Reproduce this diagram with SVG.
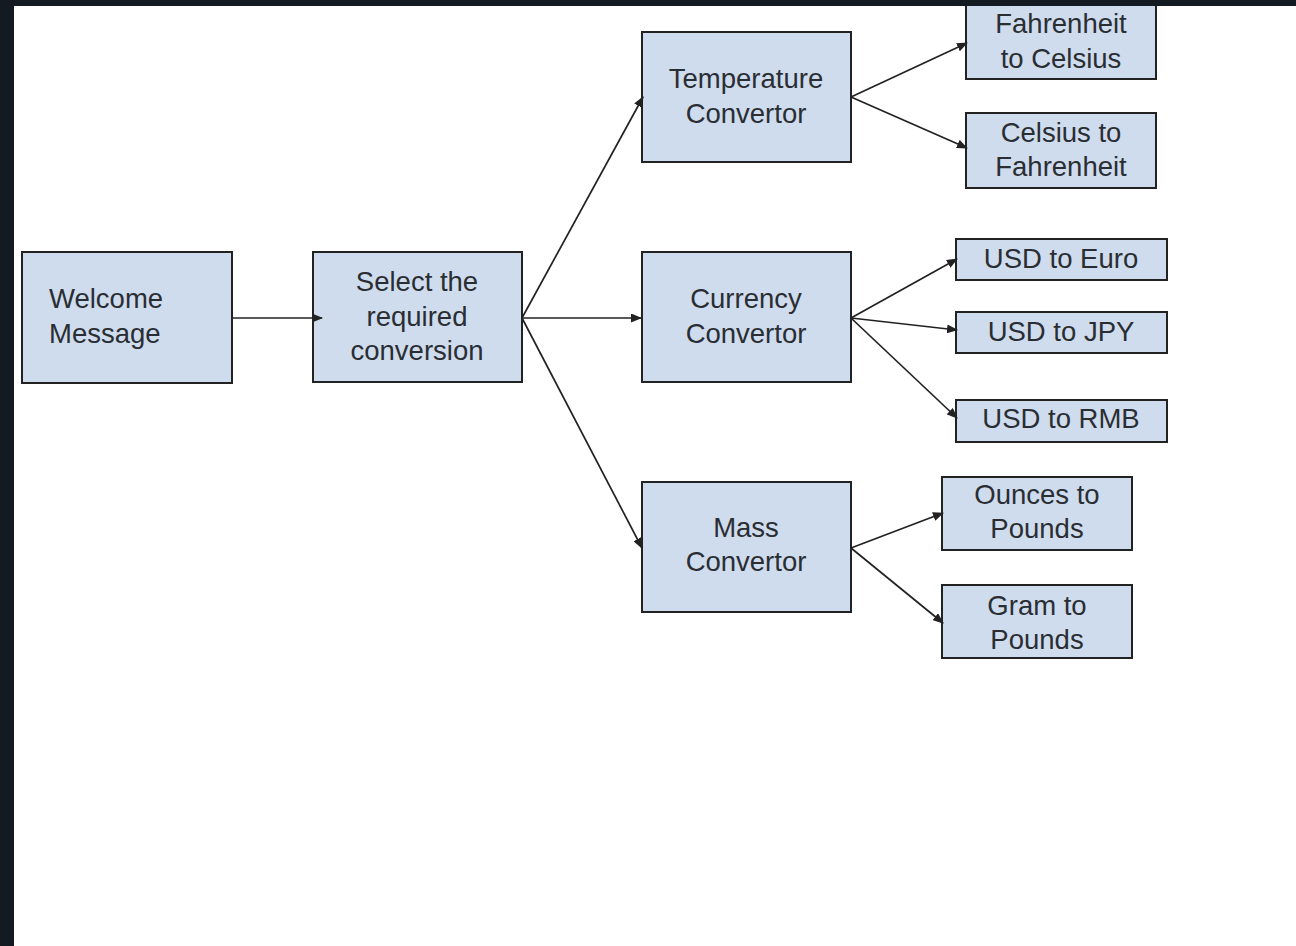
<svg xmlns="http://www.w3.org/2000/svg" width="1296" height="946" viewBox="0 0 1296 946">
<defs>
<style>
.box{fill:#cfdcee;stroke:#222;stroke-width:2}
.t{font-family:"Liberation Sans",Arial,sans-serif;font-size:27.5px;fill:#2a2e33;text-anchor:middle}
.c{stroke:#222;stroke-width:1.7;fill:none;marker-end:url(#ah)}
</style>
<marker id="ah" viewBox="0 0 11 9" refX="10" refY="4.5" markerWidth="11" markerHeight="9" markerUnits="userSpaceOnUse" orient="auto">
<path d="M0,0 L11,4.5 L0,9 Z" fill="#222"/>
</marker>
</defs>
<rect x="0" y="0" width="1296" height="946" fill="#ffffff"/>
<g id="welcome">
<rect class="box" x="22" y="252" width="210" height="131"/>
<text class="t" style="text-anchor:start" x="49" y="308">Welcome</text>
<text class="t" style="text-anchor:start" x="49" y="343">Message</text>
</g>
<g id="select">
<rect class="box" x="313" y="252" width="209" height="130"/>
<text class="t" x="417" y="291">Select the</text>
<text class="t" x="417" y="326">required</text>
<text class="t" x="417" y="360">conversion</text>
</g>
<g id="temperature">
<rect class="box" x="642" y="32" width="209" height="130"/>
<text class="t" x="746" y="88">Temperature</text>
<text class="t" x="746" y="123">Convertor</text>
</g>
<g id="currency">
<rect class="box" x="642" y="252" width="209" height="130"/>
<text class="t" x="746" y="308">Currency</text>
<text class="t" x="746" y="343">Convertor</text>
</g>
<g id="mass">
<rect class="box" x="642" y="482" width="209" height="130"/>
<text class="t" x="746" y="537">Mass</text>
<text class="t" x="746" y="571">Convertor</text>
</g>
<g id="f2c">
<rect class="box" x="966" y="5" width="190" height="74"/>
<text class="t" x="1061" y="33">Fahrenheit</text>
<text class="t" x="1061" y="68">to Celsius</text>
</g>
<g id="c2f">
<rect class="box" x="966" y="113" width="190" height="75"/>
<text class="t" x="1061" y="142">Celsius to</text>
<text class="t" x="1061" y="176">Fahrenheit</text>
</g>
<g id="usd-euro">
<rect class="box" x="956" y="239" width="211" height="41"/>
<text class="t" x="1061" y="268">USD to Euro</text>
</g>
<g id="usd-jpy">
<rect class="box" x="956" y="312" width="211" height="41"/>
<text class="t" x="1061" y="341">USD to JPY</text>
</g>
<g id="usd-rmb">
<rect class="box" x="956" y="400" width="211" height="42"/>
<text class="t" x="1061" y="428">USD to RMB</text>
</g>
<g id="oz-lb">
<rect class="box" x="942" y="477" width="190" height="73"/>
<text class="t" x="1037" y="504">Ounces to</text>
<text class="t" x="1037" y="538">Pounds</text>
</g>
<g id="g-lb">
<rect class="box" x="942" y="585" width="190" height="73"/>
<text class="t" x="1037" y="615">Gram to</text>
<text class="t" x="1037" y="649">Pounds</text>
</g>
<g id="connectors">
<line class="c" x1="233" y1="318" x2="322" y2="318"/>
<line class="c" x1="522" y1="318" x2="643" y2="97"/>
<line class="c" x1="522" y1="318" x2="641" y2="318"/>
<line class="c" x1="522" y1="318" x2="642" y2="548"/>
<line class="c" x1="851" y1="97" x2="967" y2="43"/>
<line class="c" x1="851" y1="97" x2="967" y2="148"/>
<line class="c" x1="851" y1="318" x2="957" y2="259"/>
<line class="c" x1="851" y1="318" x2="957" y2="330"/>
<line class="c" x1="851" y1="318" x2="957" y2="418"/>
<line class="c" x1="851" y1="548" x2="943" y2="513"/>
<line class="c" x1="851" y1="548" x2="943" y2="623"/>
</g>
<rect x="0" y="0" width="1296" height="6" fill="#131a22"/>
<rect x="0" y="0" width="14" height="946" fill="#131a22"/>
</svg>
